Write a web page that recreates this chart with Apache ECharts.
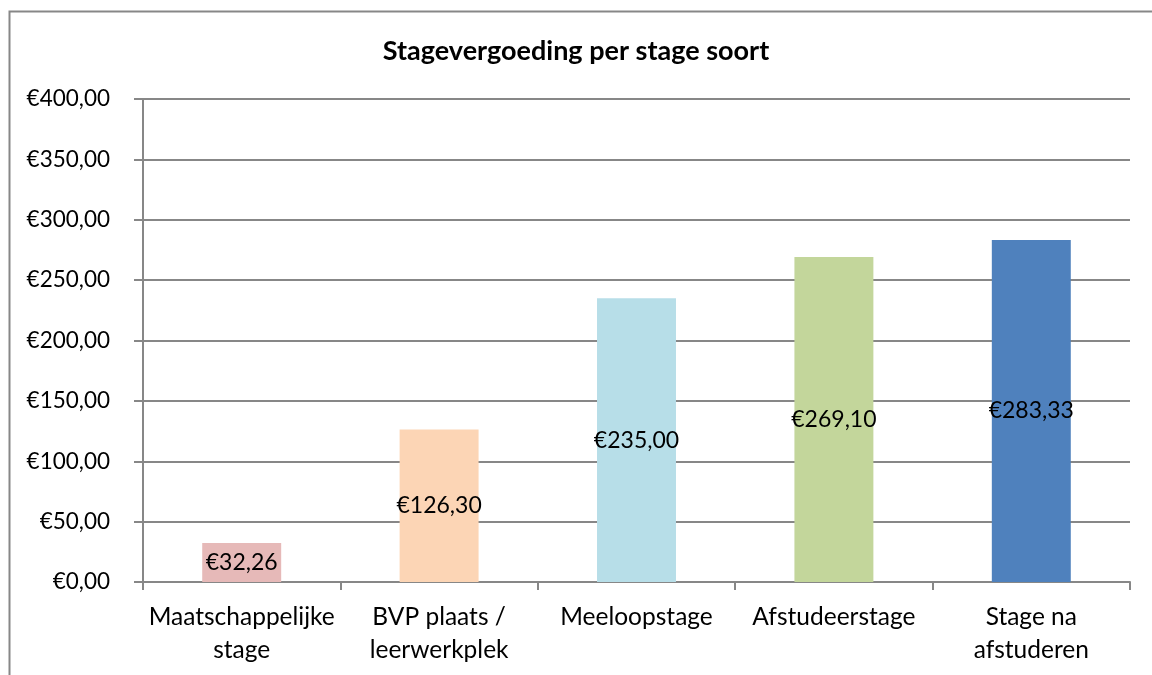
<!DOCTYPE html>
<html>
<head>
<meta charset="utf-8">
<script src="https://cdn.jsdelivr.net/npm/echarts@6/dist/echarts.min.js"></script>
<style>
  html, body { margin: 0; padding: 0; background: #fff; }
  #chart { width: 1152px; height: 675px; }
</style>
</head>
<body>
<div id="chart"></div>
<script>
const categories = ['Maatschappelijke\nstage', 'BVP plaats /\nleerwerkplek', 'Meeloopstage', 'Afstudeerstage', 'Stage na\nafstuderen']
const values = [32.26, 126.30, 235.00, 269.10, 283.33]
const barColors = ['#e6b9b8', '#fcd5b5', '#b7dee8', '#c3d69b', '#4f81bd']

const euro = (v) => '€' + Number(v).toFixed(2).replace('.', ',')
const font = 'Lato, "Open Sans", sans-serif'

const myChart = echarts.init(document.getElementById('chart'))

const option = {
  animation: false,
  textStyle: { fontFamily: font },
  title: {
    text: 'Stagevergoeding per stage soort',
    left: 'center',
    top: 33,
    textStyle: { fontFamily: font, fontSize: 27, fontWeight: 'bold', color: '#000' }
  },
  graphic: [{
    type: 'rect',
    left: 7,
    top: 9,
    shape: { width: 1200, height: 700 },
    style: { fill: 'none', stroke: '#878787', lineWidth: 2 },
    silent: true
  }],
  grid: { left: 143, right: 22, top: 99, bottom: 93 },
  xAxis: {
    type: 'category',
    data: categories,
    axisLine: { lineStyle: { color: '#878787', width: 2 } },
    axisTick: { show: true, length: 8, lineStyle: { color: '#878787', width: 2 } },
    axisLabel: { color: '#000', fontSize: 24.5, margin: 19, lineHeight: 33, interval: 0 }
  },
  yAxis: {
    type: 'value',
    min: 0,
    max: 400,
    interval: 50,
    axisLine: { show: true, lineStyle: { color: '#878787', width: 2 } },
    axisTick: { show: true, length: 9, lineStyle: { color: '#878787', width: 2 } },
    splitLine: { lineStyle: { color: '#878787', width: 2 } },
    axisLabel: { color: '#000', fontSize: 22.5, margin: 33, formatter: euro }
  },
  series: [{
    type: 'bar',
    data: values.map((v, i) => ({ value: v, itemStyle: { color: barColors[i] } })),
    barWidth: '40%',
    label: {
      show: true,
      position: 'inside',
      color: '#000',
      fontSize: 23,
      formatter: (p) => euro(p.value)
    }
  }]
}
myChart.setOption(option)
</script>
</body>
</html>
